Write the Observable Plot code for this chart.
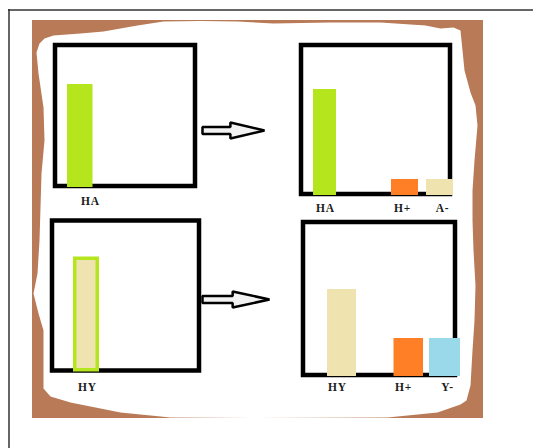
<!DOCTYPE html>
<html>
<head>
<meta charset="utf-8">
<script src="https://cdn.jsdelivr.net/npm/d3@7"></script>
<script src="https://cdn.jsdelivr.net/npm/@observablehq/plot@0.6"></script>
<style>
  body { margin: 0; background: #fff; }
  #chart svg { display: block; }
  #chart text { letter-spacing: 0.8px; }
</style>
</head>
<body>
<div id="chart"></div>
<script>
// ---- Data: species in each panel and their amounts (bar heights) ----
const species = ["HA", "HA", "H+", "A-", "HY", "HY", "H+", "Y-"];
const panelOf = ["TL", "TR", "TR", "TR", "BL", "BR", "BR", "BR"];
const amounts = [103, 106, 16, 16, 115, 87, 38, 38];
const outlined = [false, false, false, false, true, false, false, false];

// colours per species
const colorSpecies = ["HA", "H+", "A-", "HY", "Y-"];
const colorValues = ["#B5E61D", "#FF7F27", "#EFE4B0", "#EFE4B0", "#99D9EA"];

// ---- Layout (diagram geometry) ----
const panelIds = ["TL", "TR", "BL", "BR"];
const panelX1 = [55, 301, 52, 303];
const panelX2 = [195, 450, 199, 455];
const panelTop = [45, 45, 220.5, 222];
const panelBase = [186, 194, 370.5, 375];
const panelLabelY = [201, 208, 387, 387];

const barX1 = [67, 313, 391, 426, 73, 327, 393.5, 429];
const barX2 = [92.5, 336, 418, 453, 99, 356, 423, 460];
const labelX = [90, 325, 402, 442, 87, 337, 403, 447];

const arrowIds = ["a1", "a2"];
const arrowX = [202, 202];
const arrowY = [130, 299];
const arrowLen = [62, 67];
// arrow outline relative to its start (fraction of length, vertical offset)
const arrowShape = [[0, -3.5], [0.45, -3.5], [0.45, -8], [1, 0], [0.45, 8], [0.45, 3.5], [0, 3.5]];

// torn paper edge (white sheet on brown board)
const paperEdge = [
  [36, 52], [39, 43], [44, 38], [53, 35], [80, 33], [103, 31], [137, 25], [163, 21], [200, 20.5],
  [237, 21], [273, 23], [330, 22], [380, 22], [425, 25], [440, 28], [453, 27], [460, 30],
  [462, 50], [464, 70], [470, 92], [475, 105], [477, 125], [474, 160], [472, 190], [472, 220],
  [473, 250], [475, 285], [474, 320], [472, 350], [470, 385], [466, 400], [460, 404],
  [437, 412], [387, 417], [253, 417.5], [170, 417], [120, 412], [70, 402], [50, 396],
  [43, 388], [43, 373], [43, 330], [38, 313], [33, 293], [37, 273], [39, 240], [40, 207],
  [41, 173], [44, 140], [43, 107], [38, 73]
];
const board = {x1: 32, x2: 483, y1: 20, y2: 418};

// ---- Build tables ----
const panels = panelIds.map((id, i) => ({
  id, x1: panelX1[i], x2: panelX2[i], top: panelTop[i], base: panelBase[i], labelY: panelLabelY[i]
}));
const panelById = Object.fromEntries(panels.map(p => [p.id, p]));

const bars = species.map((s, i) => {
  const p = panelById[panelOf[i]];
  const bottom = p.base + 1;
  return {
    species: s, panel: p.id, amount: amounts[i], outlined: outlined[i],
    x1: barX1[i], x2: barX2[i], bottom, top: bottom - amounts[i],
    labelX: labelX[i], labelY: p.labelY
  };
});

const arrowPts = arrowIds.flatMap((id, i) =>
  arrowShape.map(([fx, dy]) => ({id, x: arrowX[i] + fx * arrowLen[i], y: arrowY[i] + dy}))
);

const sw = 3.5; // outline width of the outlined bar
const chart = Plot.plot({
  width: 533,
  height: 448,
  margin: 0,
  x: {axis: null, domain: [0, 533]},
  y: {axis: null, domain: [448, 0]},
  color: {domain: colorSpecies, range: colorValues},
  style: {background: "white", overflow: "visible"},
  marks: [
    Plot.ruleY([9.5], {x1: 8, x2: 533, stroke: "#333", strokeWidth: 1.5}),
    Plot.ruleX([8.5], {y1: 9, y2: 448, stroke: "#333", strokeWidth: 1.5}),
    Plot.rect([board], {x1: "x1", x2: "x2", y1: "y1", y2: "y2", fill: "#B97A57"}),
    Plot.line(paperEdge, {x: d => d[0], y: d => d[1], fill: "white", stroke: "none", curve: "linear-closed"}),
    Plot.rect(panels, {x1: "x1", x2: "x2", y1: "top", y2: "base", fill: "none", stroke: "black", strokeWidth: 4.5}),
    Plot.line(arrowPts, {x: "x", y: "y", z: "id", fill: "#f2f2f2", stroke: "black", strokeWidth: 2.5, curve: "linear-closed", strokeLinejoin: "miter"}),
    Plot.rect(bars.filter(d => !d.outlined), {x1: "x1", x2: "x2", y1: "bottom", y2: "top", fill: "species"}),
    Plot.rect(bars.filter(d => d.outlined), {
      x1: d => d.x1 + sw / 2, x2: d => d.x2 - sw / 2,
      y1: d => d.bottom - sw / 2, y2: d => d.top + sw / 2,
      fill: "species", stroke: "#B5E61D", strokeWidth: sw
    }),
    Plot.text(bars, {
      x: "labelX", y: "labelY", text: "species",
      fontFamily: "Liberation Serif", fontWeight: "bold", fontSize: 11.5,
      fill: "#1a1a1a", textAnchor: "middle", lineAnchor: "middle"
    })
  ]
});
document.getElementById("chart").appendChild(chart);
</script>
</body>
</html>
